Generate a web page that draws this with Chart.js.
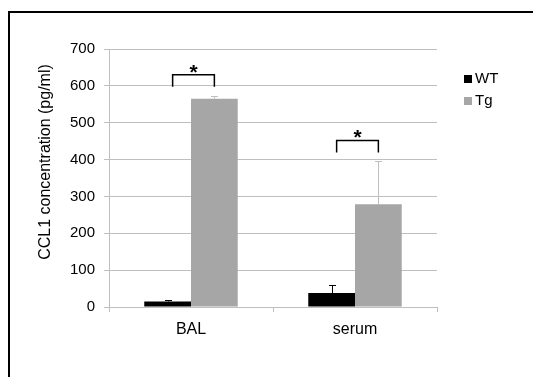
<!DOCTYPE html>
<html>
<head>
<meta charset="utf-8">
<script src="https://cdn.jsdelivr.net/npm/chart.js@4.4.0/dist/chart.umd.min.js"></script>
<style>
  body { margin: 0; background: #fff; overflow: hidden; }
  #moldura { position: absolute; left: 8px; top: 11px; width: 560px; height: 400px; border-left: 2px solid #000; border-top: 2px solid #000; }
  #caixa { position: absolute; left: 0; top: 0; width: 533px; height: 377px; }
</style>
</head>
<body>
<div id="moldura"></div>
<div id="caixa"><canvas id="grafico"></canvas></div>
<script>
// dados
var categorias = ['BAL', 'serum'];
var valoresWT = [15, 38];
var valoresTg = [565, 279];
var erroWT = [4, 22];
var erroTg = [8, 116];
var significancia = ['*', '*'];
var marcasY = [0, 100, 200, 300, 400, 500, 600, 700];
var tituloY = 'CCL1 concentration (pg/ml)';

var fonte = '"Liberation Sans", Arial, sans-serif';
var corGrade = '#bfbfbf';

// barras de erro (so para cima, com traco no topo)
var barrasErro = {
    id: 'barrasErro',
    afterDatasetsDraw: function (chart) {
        var ctx = chart.ctx;
        var escalaY = chart.scales.y;
        var erros = [erroWT, erroTg];
        var cores = ['#000000', '#bfbfbf'];
        ctx.save();
        ctx.lineWidth = 1;
        chart.data.datasets.forEach(function (ds, i) {
            var meta = chart.getDatasetMeta(i);
            ctx.strokeStyle = cores[i];
            meta.data.forEach(function (barra, j) {
                var x = Math.round(barra.x) + 0.5;
                var yFim = Math.round(escalaY.getPixelForValue(ds.data[j] + erros[i][j])) + 0.5;
                ctx.beginPath();
                ctx.moveTo(x, barra.y);
                ctx.lineTo(x, yFim);
                ctx.moveTo(x - 3.5, yFim);
                ctx.lineTo(x + 3.5, yFim);
                ctx.stroke();
            });
        });
        ctx.restore();
    }
};

// colchetes com asterisco
var colchetes = {
    id: 'colchetes',
    afterDatasetsDraw: function (chart) {
        var ctx = chart.ctx;
        var escalaY = chart.scales.y;
        var barrasWT = chart.getDatasetMeta(0).data;
        var barrasTg = chart.getDatasetMeta(1).data;
        ctx.save();
        ctx.strokeStyle = '#000';
        ctx.lineWidth = 1.5;
        for (var j = 0; j < categorias.length; j++) {
            var maximo = Math.max(valoresWT[j] + erroWT[j], valoresTg[j] + erroTg[j]);
            var base = escalaY.getPixelForValue(maximo) - 9;
            var topo = base - 12;
            var xa = barrasWT[j].x + 5;
            var xb = barrasTg[j].x;
            ctx.beginPath();
            ctx.moveTo(xa, base);
            ctx.lineTo(xa, topo);
            ctx.lineTo(xb, topo);
            ctx.lineTo(xb, base);
            ctx.stroke();
            ctx.fillStyle = '#000';
            ctx.font = 'bold 21px ' + fonte;
            ctx.textAlign = 'center';
            ctx.textBaseline = 'alphabetic';
            ctx.fillText(significancia[j], (xa + xb) / 2, topo + 4);
        }
        ctx.restore();
    }
};

// titulo do eixo y e legenda do lado
var textosExtras = {
    id: 'textosExtras',
    afterDraw: function (chart) {
        var ctx = chart.ctx;
        ctx.save();
        ctx.fillStyle = '#000';
        ctx.font = '16px ' + fonte;
        ctx.textAlign = 'center';
        ctx.textBaseline = 'middle';
        ctx.translate(46, 162);
        ctx.rotate(-Math.PI / 2);
        ctx.fillText(tituloY, 0, 0);
        ctx.restore();

        ctx.save();
        ctx.font = '15px ' + fonte;
        ctx.textBaseline = 'middle';
        ctx.textAlign = 'left';
        chart.data.datasets.forEach(function (ds, i) {
            var y = 79 + i * 22;
            ctx.fillStyle = ds.backgroundColor;
            ctx.fillRect(464, y - 4, 8, 8);
            ctx.fillStyle = '#000';
            ctx.fillText(ds.label, 475, y);
        });
        ctx.restore();
    }
};

var ctx = document.getElementById('grafico');
new Chart(ctx, {
    type: 'bar',
    data: {
        labels: categorias,
        datasets: [{
            label: 'WT',
            data: valoresWT,
            backgroundColor: '#000000',
            borderWidth: 0
        }, {
            label: 'Tg',
            data: valoresTg,
            backgroundColor: '#a6a6a6',
            borderWidth: 0
        }]
    },
    options: {
        responsive: true,
        maintainAspectRatio: false,
        animation: false,
        categoryPercentage: 0.57,
        barPercentage: 1.0,
        layout: {
            padding: { top: 49, right: 96, left: 0, bottom: 0 }
        },
        plugins: {
            legend: { display: false },
            tooltip: { enabled: false }
        },
        scales: {
            x: {
                grid: { drawOnChartArea: false, drawTicks: true, tickLength: 5, color: corGrade },
                border: { display: true, color: corGrade },
                ticks: { color: '#000', padding: 8, font: { family: fonte, size: 16 } },
                afterFit: function (escala) { escala.height = 70; }
            },
            y: {
                min: 0,
                max: 700,
                afterBuildTicks: function (escala) {
                    escala.ticks = marcasY.map(function (v) { return { value: v }; });
                },
                grid: { color: corGrade, tickLength: 5 },
                border: { display: true, color: corGrade },
                ticks: { color: '#000', padding: 9, font: { family: fonte, size: 15 } },
                afterFit: function (escala) { escala.width = 109; }
            }
        }
    },
    plugins: [barrasErro, colchetes, textosExtras]
});
</script>
</body>
</html>
